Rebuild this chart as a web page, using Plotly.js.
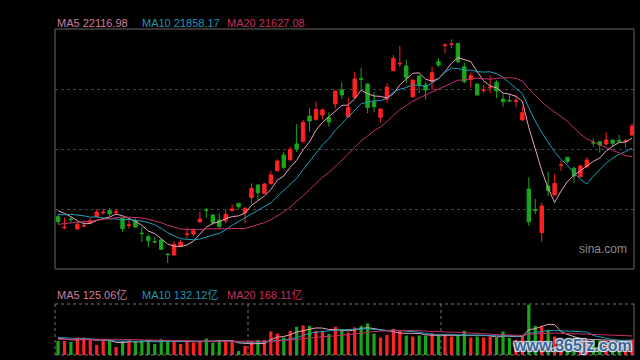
<!DOCTYPE html>
<html><head><meta charset="utf-8">
<script src="https://cdn.plot.ly/plotly-3.0.1.min.js"></script>
<style>html,body{margin:0;padding:0;background:#000;}#chart{width:640px;height:360px;}</style>
</head><body><div id="chart"></div>
<script>
// closes of the 19 sessions before the visible window (needed for the moving averages)
const priorCloses = [19484,19376,19430,19592,19646,19484,19592,19700,19484,19511,
  19862,19754,19916,20078,20240,20070,20389,20340,20167];
const opens = [20005,19705,19943,19673,19749,19843,20005,20110,20167,20119,
  19970,19768,19897,19565,19465,19338,19376,18998,18971,19195,
  19525,19538,19870,20194,20051,19916,19897,20167,20367,20113,
  20524,20861,20632,20902,21247,21671,21550,21968,22030,22724,
  22635,22751,22678,23048,23426,22705,23229,23731,23588,23110,
  22689,23183,23947,24133,24074,23245,23804,23561,23650,24190,
  24628,24655,24687,24055,23715,23588,23412,23485,23634,23183,
  23145,23124,22616,20753,20200,19573,20834,20591,21388,21609,
  21312,21085,21355,22011,22030,21968,22076,22063,22041,22211];
const highs = [20078,19978,20005,19870,19916,19978,20205,20221,20240,20221,
  19978,19943,19962,19735,19525,19465,19390,19012,19349,19376,
  19719,19692,20140,20248,20065,20097,20186,20340,20375,20267,
  20907,20875,20915,21239,21555,21760,21895,22508,22616,22948,
  23110,22932,22824,23412,23634,23218,23920,24028,23602,23380,
  22927,23607,24371,24614,24236,23710,23818,23650,24055,24282,
  24687,24795,24695,24174,23904,23602,23561,23812,23696,23337,
  23318,23291,22975,21069,20483,20383,21220,21158,21509,21617,
  21355,21401,21609,22122,22035,22273,22084,22211,22103,22527];
const lows = [19808,19673,19843,19665,19727,19827,19997,20065,20024,20059,
  19600,19692,19708,19322,19187,19287,19106,18755,18958,19187,
  19422,19465,19835,19970,19781,19708,19827,20159,20205,19827,
  20367,20456,20618,20861,21220,21293,21490,21752,22022,22300,
  22597,22635,22435,22932,23183,22689,23202,23426,22797,22840,
  22543,23083,23939,24039,23607,23218,23337,23175,23426,24039,
  24417,24552,24147,23607,23499,23278,23337,23337,23202,22975,
  23110,22959,22603,19754,20078,19330,20564,20583,21239,21447,
  20907,21069,21312,21895,21733,21941,21895,22003,21874,22184];
const closes = [19870,19719,19927,19800,19762,19897,20132,20124,20078,20132,
  19681,19781,19727,19549,19357,19322,19125,18982,19260,19314,
  19538,19627,19943,20178,19843,19735,20070,20213,20275,20232,
  20772,20653,20888,21131,21509,21334,21825,21833,22554,22589,
  22905,22886,22562,23399,23291,22959,23723,23715,22948,22975,
  22913,23499,24282,24147,23758,23696,23561,23426,23893,24101,
  24641,24668,24190,23650,23812,23291,23426,23499,23399,23110,
  23129,23137,22813,19870,20173,20294,20707,20907,21401,21490,
  21104,21374,21536,21995,21941,22076,21987,22049,22054,22454];
// turnover in 亿
const priorVolumes = [120,135,126,117,132,129,120,138,126,117,171,153,165,159,162,162,150,159,153];
const volumes = [126,126,117,156,156,141,90,132,132,72,
  126,132,126,132,132,99,141,132,126,99,
  126,111,126,147,111,135,126,132,36,81,
  126,135,135,210,192,156,216,252,264,261,
  216,210,189,252,231,201,246,261,282,192,
  156,180,234,216,174,165,174,174,195,174,
  180,165,180,216,156,165,156,165,156,210,
  153,135,180,450,261,255,225,165,140,130,
  153,144,135,135,129,126,117,117,126,139];
const maPeriods = [5, 10, 20];
const priceMaText = ['22116.98', '21858.17', '21627.08'];
const volumeMaText = ['125.06亿', '132.12亿', '168.11亿'];

const RED = '#ff2222', GREEN = '#1aa51a';
const maLineColors = ['#eaa2bc', '#1f9fbd', '#c4306a'];
const maLabelColors = ['#d07c9c', '#1d97b8', '#c92d60'];

function movingAverage(prior, series, n) {
  const all = prior.concat(series), off = prior.length;
  return series.map((_, i) => {
    const end = off + i;
    if (end - n + 1 < 0) return null;
    let s = 0;
    for (let k = end - n + 1; k <= end; k++) s += all[k];
    return s / n;
  });
}

const idx = closes.map((_, i) => i);
const traces = [];
traces.push({
  type: 'candlestick', x: idx, open: opens, high: highs, low: lows, close: closes,
  xaxis: 'x', yaxis: 'y', whiskerwidth: 0, hoverinfo: 'skip',
  increasing: {line: {color: RED, width: 1}, fillcolor: RED},
  decreasing: {line: {color: GREEN, width: 1}, fillcolor: GREEN}
});
maPeriods.forEach((p, j) => traces.push({
  type: 'scatter', mode: 'lines', x: idx, y: movingAverage(priorCloses, closes, p),
  xaxis: 'x', yaxis: 'y', line: {color: maLineColors[j], width: 1}, hoverinfo: 'skip'
}));
traces.push({
  type: 'bar', x: idx, y: volumes, xaxis: 'x2', yaxis: 'y2', width: 0.5,
  marker: {color: closes.map((c, i) => c > opens[i] ? RED : GREEN), line: {width: 0}},
  hoverinfo: 'skip'
});
maPeriods.forEach((p, j) => traces.push({
  type: 'scatter', mode: 'lines', x: idx, y: movingAverage(priorVolumes, volumes, p),
  xaxis: 'x2', yaxis: 'y2', line: {color: maLineColors[j], width: 1}, hoverinfo: 'skip'
}));

const XL = 55 / 640, XR = 634 / 640;
const PB = 91 / 360, PT = 331 / 360, VB = 5 / 360, VT = 56 / 360;
const font = 'Liberation Sans, Arial, Noto Sans CJK SC, sans-serif';
const hidden = {showgrid: false, zeroline: false, showticklabels: false, ticks: '', showline: false};

const annotations = [];
const labelX = [55, 140, 225];
maPeriods.forEach((p, j) => {
  annotations.push({xref: 'paper', yref: 'paper', x: labelX[j] / 640, y: 1 - 23 / 360,
    xanchor: 'left', yanchor: 'middle', showarrow: false,
    text: 'MA' + p + ' ' + priceMaText[j], font: {family: font, size: 11, color: maLabelColors[j]}});
  annotations.push({xref: 'paper', yref: 'paper', x: labelX[j] / 640, y: 1 - 295 / 360,
    xanchor: 'left', yanchor: 'middle', showarrow: false,
    text: 'MA' + p + ' ' + volumeMaText[j], font: {family: font, size: 11, color: maLabelColors[j]}});
});
annotations.push({xref: 'paper', yref: 'paper', x: 603 / 640, y: 1 - 249 / 360,
  xanchor: 'center', yanchor: 'middle', showarrow: false, text: 'sina.com',
  font: {family: font, size: 12, color: '#8a8a8a'}});
annotations.push({xref: 'paper', yref: 'paper', x: 572 / 640, y: 1 - 345 / 360,
  xanchor: 'center', yanchor: 'middle', showarrow: false, text: 'www.365jz.com',
  font: {family: 'Liberation Sans, Arial, sans-serif', size: 16, weight: 700, color: '#3d6596',
    shadow: '1px 1px 1px #dfeaf7, -1px -1px 1px #dfeaf7, 1px -1px 1px #dfeaf7, -1px 1px 1px #dfeaf7'}});

const shapes = [
  {type: 'rect', xref: 'paper', yref: 'paper', x0: XL, x1: XR, y0: PB, y1: PT,
    line: {color: '#666', width: 1}},
  {type: 'line', xref: 'paper', yref: 'paper', x0: XL, x1: XR, y0: VT, y1: VT, line: {color: '#777', width: 1, dash: 'dot'}},
  {type: 'line', xref: 'paper', yref: 'paper', x0: XL, x1: XR, y0: VB, y1: VB, line: {color: '#777', width: 1, dash: 'dot'}},
  {type: 'line', xref: 'paper', yref: 'paper', x0: XL, x1: XL, y0: VB, y1: VT, line: {color: '#777', width: 1, dash: 'dot'}},
  {type: 'line', xref: 'paper', yref: 'paper', x0: XR, x1: XR, y0: VB, y1: VT, line: {color: '#666', width: 1}},
  {type: 'line', xref: 'paper', yref: 'paper', x0: XL + (XR - XL) / 3, x1: XL + (XR - XL) / 3, y0: VB, y1: VT, line: {color: '#777', width: 1, dash: 'dot'}},
  {type: 'line', xref: 'paper', yref: 'paper', x0: XL + 2 * (XR - XL) / 3, x1: XL + 2 * (XR - XL) / 3, y0: VB, y1: VT, line: {color: '#777', width: 1, dash: 'dot'}}
];

const layout = {
  width: 640, height: 360, margin: {l: 0, r: 0, t: 0, b: 0},
  paper_bgcolor: '#000', plot_bgcolor: '#000', showlegend: false, boxgap: 0.25,
  xaxis: Object.assign({domain: [XL, XR], range: [-0.47, 89.31], anchor: 'y', rangeslider: {visible: false}}, hidden),
  xaxis2: Object.assign({domain: [XL, XR], range: [-0.47, 89.31], anchor: 'y2'}, hidden),
  yaxis: {domain: [PB, PT], range: [18593, 25073], tick0: 18593, dtick: 1620, anchor: 'x',
    showgrid: true, gridcolor: '#444', griddash: 'dot', gridwidth: 1,
    zeroline: false, showticklabels: false, ticks: '', showline: false},
  yaxis2: Object.assign({domain: [VB, VT], range: [0, 456], anchor: 'x2'}, hidden),
  shapes: shapes, annotations: annotations
};
Plotly.newPlot('chart', traces, layout, {staticPlot: true, displayModeBar: false});
</script></body></html>
